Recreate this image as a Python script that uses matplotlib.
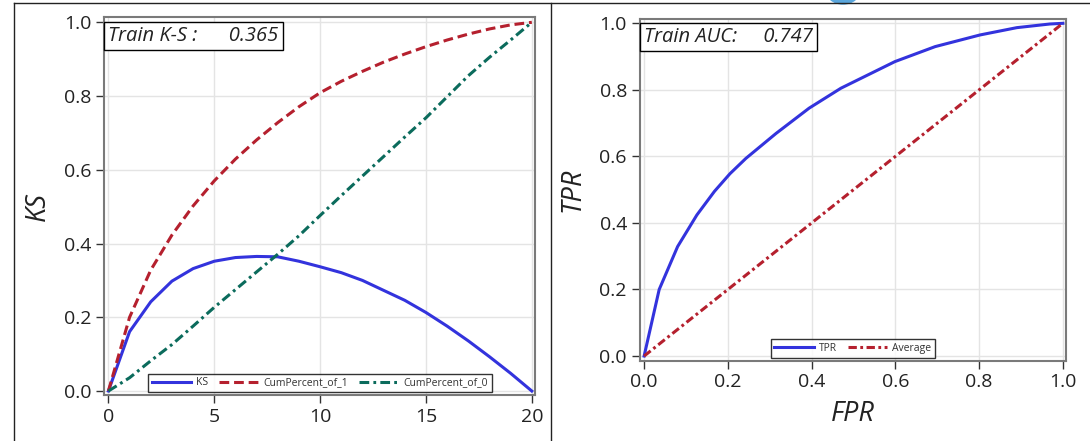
import matplotlib
matplotlib.use("Agg")
import matplotlib.pyplot as plt
from matplotlib.lines import Line2D
from matplotlib.patches import Ellipse

# ---------------- data ----------------
ks_x = list(range(0, 21))
ks_values = [0.0, 0.161, 0.242, 0.298, 0.332, 0.352, 0.362, 0.365, 0.364, 0.352,
             0.337, 0.321, 0.300, 0.273, 0.246, 0.213, 0.176, 0.136, 0.093, 0.048, 0.0]
cum_pct_1 = [0.0, 0.200, 0.328, 0.423, 0.502, 0.570, 0.629, 0.681, 0.728, 0.771,
             0.809, 0.840, 0.867, 0.892, 0.914, 0.934, 0.952, 0.968, 0.982, 0.993, 1.0]
cum_pct_0 = [0.0, 0.036, 0.082, 0.126, 0.176, 0.227, 0.275, 0.323, 0.371, 0.421,
             0.476, 0.530, 0.583, 0.636, 0.689, 0.741, 0.798, 0.855, 0.905, 0.952, 1.0]

roc_fpr = [0.0, 0.036, 0.080, 0.126, 0.168, 0.205, 0.243, 0.315, 0.394, 0.470,
           0.599, 0.695, 0.802, 0.890, 0.969, 1.0]
roc_tpr = [0.0, 0.200, 0.329, 0.424, 0.495, 0.548, 0.594, 0.669, 0.745, 0.805,
           0.885, 0.930, 0.965, 0.987, 0.998, 1.0]
avg_x = [0.0, 1.0]
avg_y = [0.0, 1.0]

ks_text = "Train K-S :      0.365"
auc_text = "Train AUC:     0.747"

ks_xticks = [0, 5, 10, 15, 20]
unit_ticks = [0.0, 0.2, 0.4, 0.6, 0.8, 1.0]

# ---------------- style ----------------
plt.rcParams['font.family'] = ['Open Sans', 'DejaVu Sans']
plt.rcParams['lines.scale_dashes'] = False

BLUE = '#3333dd'
RED = '#b5202e'
GREEN = '#0b6b5c'
SPINE = '#7a7a7a'
GRID = '#e4e4e4'
TXT = '#222222'

W, H = 1090, 441
fig = plt.figure(figsize=(W / 100, H / 100), dpi=100)


def px_axes(x0, y0, x1, y1):
    return fig.add_axes([x0 / W, 1 - y1 / H, (x1 - x0) / W, (y1 - y0) / H])


def style_axes(ax):
    for s in ax.spines.values():
        s.set_color(SPINE)
        s.set_linewidth(1.5)
    ax.tick_params(direction='out', length=6, width=1.0, color='#333333',
                   labelsize=14, labelcolor=TXT, pad=3)
    ax.grid(True, color=GRID, linewidth=1.0)
    ax.set_axisbelow(True)


# ---------------- left: KS ----------------
ax1 = px_axes(104.3, 17.3, 535.3, 395)
style_axes(ax1)
ax1.plot(ks_x, ks_values, color=BLUE, lw=2.2, label='KS')
ax1.plot(ks_x, cum_pct_1, color=RED, lw=2.2, linestyle=(0, (7, 3.5)),
         label='CumPercent_of_1')
ax1.plot(ks_x, cum_pct_0, color=GREEN, lw=2.2, linestyle=(0, (7, 3, 2, 3)),
         label='CumPercent_of_0')
ax1.set_xlim(-0.194, 20.165)
ax1.set_ylim(-0.0108, 1.0136)
ax1.set_xticks(ks_xticks)
ax1.set_yticks(unit_ticks)
ax1.set_yticklabels([f"{v:.1f}" for v in unit_ticks])
ax1.set_ylabel('KS', fontsize=19.5, style='italic', color=TXT, labelpad=9)
ax1.text(0.0, 0.99, ks_text, transform=ax1.transData, fontsize=14.5,
         style='italic', color=TXT, ha='left', va='top',
         bbox=dict(boxstyle='square,pad=0.2', fc='white', ec='black', lw=1.0))
leg1 = ax1.legend(loc='lower center', ncol=3, fontsize=7.5, frameon=True,
                  fancybox=False, edgecolor='black', borderpad=0.35,
                  handlelength=3.8, handletextpad=0.5, columnspacing=1.0,
                  borderaxespad=0.3)
leg1.get_frame().set_linewidth(1.0)
for t in leg1.get_texts():
    t.set_color('#333333')

# ---------------- right: ROC ----------------
ax2 = px_axes(639.5, 19, 1066.4, 360.7)
style_axes(ax2)
ax2.plot(roc_fpr, roc_tpr, color=BLUE, lw=2.2, label='TPR')
ax2.plot(avg_x, avg_y, color=RED, lw=2.2, linestyle=(0, (6, 2.5, 2, 2.5)),
         label='Average')
ax2.set_xlim(-0.011, 1.0084)
ax2.set_ylim(-0.014, 1.013)
ax2.set_xticks(unit_ticks)
ax2.set_yticks(unit_ticks)
ax2.set_xticklabels([f"{v:.1f}" for v in unit_ticks])
ax2.set_yticklabels([f"{v:.1f}" for v in unit_ticks])
ax2.set_ylabel('TPR', fontsize=19.5, style='italic', color=TXT, labelpad=9)
ax2.set_xlabel('FPR', fontsize=19.5, style='italic', color=TXT, labelpad=6)
ax2.text(0.0, 0.99, auc_text, transform=ax2.transData, fontsize=14.5,
         style='italic', color=TXT, ha='left', va='top',
         bbox=dict(boxstyle='square,pad=0.2', fc='white', ec='black', lw=1.0))
leg2 = ax2.legend(loc='lower center', ncol=2, fontsize=7.5, frameon=True,
                  fancybox=False, edgecolor='black', borderpad=0.35,
                  handlelength=3.8, handletextpad=0.5, columnspacing=1.0,
                  borderaxespad=0.3)
leg2.get_frame().set_linewidth(1.0)
for t in leg2.get_texts():
    t.set_color('#333333')

# ---------------- panel borders ----------------
fig.add_artist(Line2D([14.3 / W, 14.3 / W], [0, 1 - 3.3 / H], color='#222222', lw=1.0))
fig.add_artist(Line2D([14.3 / W, 1.0], [1 - 3.3 / H, 1 - 3.3 / H], color='#222222', lw=1.0))
fig.add_artist(Line2D([550.9 / W, 550.9 / W], [0, 1 - 3.3 / H], color='#222222', lw=1.0))
fig.add_artist(Ellipse((843 / W, 1 + 10 / H), 34 / W, 28 / H, color='#5aa6dc',
                       transform=fig.transFigure, clip_on=False))

fig.savefig('out.png', dpi=100)
